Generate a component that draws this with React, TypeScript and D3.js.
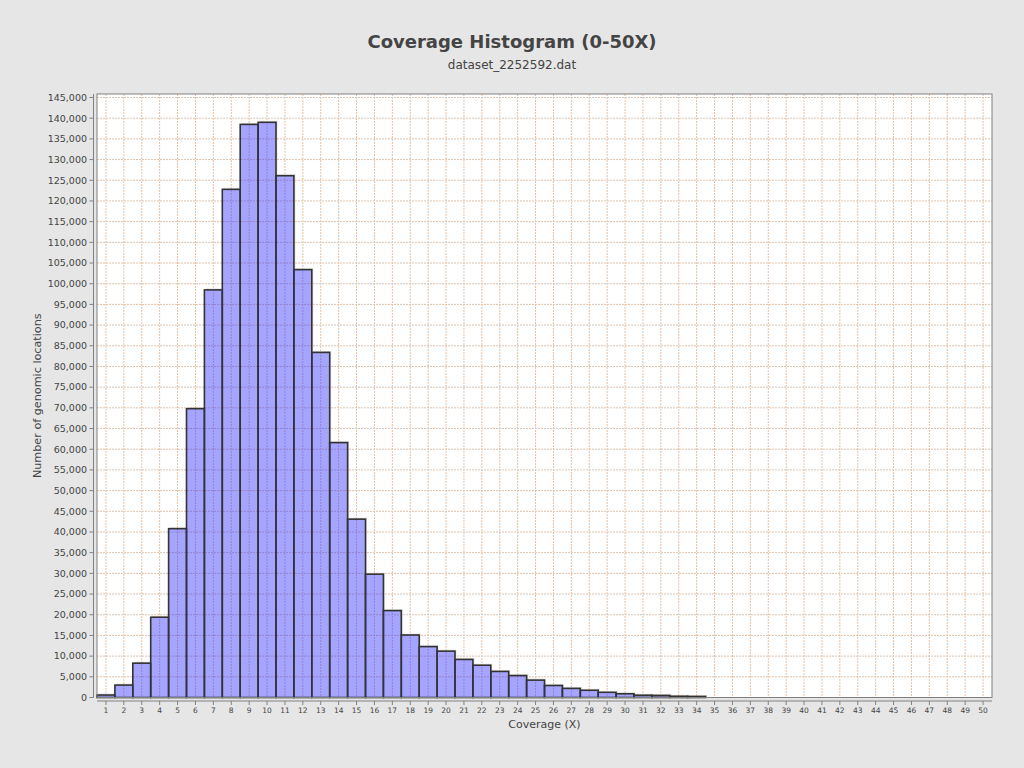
import React from "react";
import * as d3 from "d3";

const categories: number[] = d3.range(1, 51);
const counts: number[] = [
  600, 3000, 8300, 19400, 40800, 69800, 98500, 122800, 138500, 139000,
  126100, 103400, 83400, 61600, 43100, 29800, 21000, 15100, 12300, 11200,
  9200, 7800, 6300, 5300, 4200, 2900, 2200, 1750, 1250, 900,
  550, 500, 300, 250, 0, 0, 0, 0, 0, 0,
  0, 0, 0, 0, 0, 0, 0, 0, 0, 0,
];
const yTicks: number[] = d3.range(0, 145001, 5000);
const title = "Coverage Histogram (0-50X)";
const subtitle = "dataset_2252592.dat";
const xLabel = "Coverage (X)";
const yLabel = "Number of genomic locations";

const W = 1024, H = 768;
const L = 97, R = 992, T = 94, B = 697.5;
const FONT = "DejaVu Sans, sans-serif";

export default function App() {
  const x = d3.scaleBand<number>().domain(categories).range([L, R]).padding(0);
  const y = d3.scaleLinear().domain([0, 145845]).range([B, T]);
  const fmt = d3.format(",");
  const bw = x.bandwidth();

  const grid = (key: string, x1: number, y1: number, x2: number, y2: number) => (
    <g key={key}>
      <line x1={x1} y1={y1} x2={x2} y2={y2} stroke="#c8c8c8" strokeWidth={1} strokeDasharray="2,4" strokeDashoffset={3} />
      <line x1={x1} y1={y1} x2={x2} y2={y2} stroke="#f5bd92" strokeWidth={1} strokeDasharray="2,4" />
    </g>
  );

  return (
    <svg width={W} height={H} style={{ position: "absolute", left: 0, top: 0 }} fontFamily={FONT}>
      <rect x={0} y={0} width={W} height={H} fill="#e6e6e6" />
      <text x={512} y={48} textAnchor="middle" fontSize={18} fontWeight="bold" fill="#444">{title}</text>
      <text x={512} y={69} textAnchor="middle" fontSize={12} fill="#444">{subtitle}</text>
      <rect x={L} y={T} width={R - L} height={B - T} fill="#fff" />
      {/* bar shadows */}
      {categories.map((c, i) => {
        const h = B - y(counts[i]);
        if (counts[i] <= 0) return null;
        return <rect key={"s" + c} x={(x(c) as number) + 1.5} y={y(counts[i]) - 1.5} width={bw} height={h + 1.5} fill="#000" opacity={0.12} />;
      })}
      {categories.map((c, i) => {
        const h = B - y(counts[i]);
        if (counts[i] <= 0) return null;
        return <rect key={"w" + c} x={x(c) as number} y={y(counts[i])} width={bw} height={h} fill="#fff" />;
      })}
      {/* gridlines */}
      {yTicks.map((t) => grid("h" + t, L, y(t), R, y(t)))}
      {categories.map((c) => {
        const cx = (x(c) as number) + bw / 2;
        return grid("v" + c, cx, T, cx, B);
      })}
      {categories.map((c, i) => {
        const h = B - y(counts[i]);
        return (
          <rect key={"b" + c} x={x(c) as number} y={y(counts[i])} width={bw} height={h}
            fill="rgba(40,40,255,0.42)" stroke="#333" strokeWidth={1.6} />
        );
      })}
      <rect x={L} y={T} width={R - L} height={B - T} fill="none" stroke="#808080" strokeWidth={1} />
      {/* y axis */}
      <line x1={93.5} y1={T} x2={93.5} y2={B} stroke="#808080" />
      {yTicks.map((t) => (
        <g key={"yt" + t}>
          <line x1={89.5} y1={y(t)} x2={93.5} y2={y(t)} stroke="#808080" />
          <text x={87} y={y(t)} dy="0.35em" textAnchor="end" fontSize={9.5} fill="#444">{fmt(t)}</text>
        </g>
      ))}
      <text transform={`translate(41,${(T + B) / 2}) rotate(-90)`} textAnchor="middle" fontSize={11.2} fill="#444">{yLabel}</text>
      {/* x axis */}
      <line x1={L} y1={701} x2={R} y2={701} stroke="#808080" />
      {categories.map((c) => {
        const cx = (x(c) as number) + bw / 2;
        return (
          <g key={"xt" + c}>
            <line x1={cx} y1={701} x2={cx} y2={705} stroke="#808080" />
            <text x={cx} y={713} textAnchor="middle" fontSize={7.5} fill="#444">{c}</text>
          </g>
        );
      })}
      <text x={(L + R) / 2} y={728} textAnchor="middle" fontSize={11} fill="#444">{xLabel}</text>
    </svg>
  );
}
